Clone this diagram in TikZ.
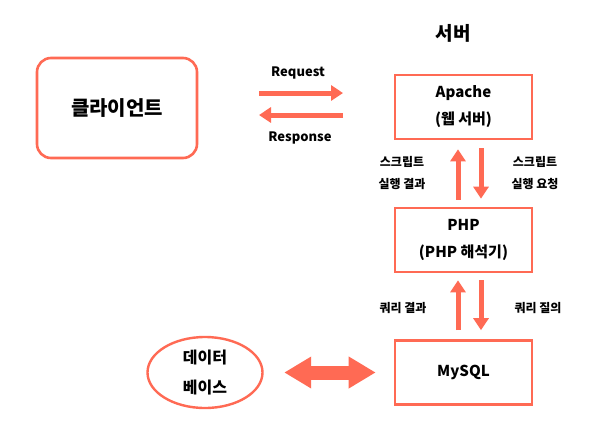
\documentclass[tikz,border=0pt]{standalone}
\usepackage{fontspec}
\setmainfont{Noto Sans CJK KR}
\usetikzlibrary{arrows.meta,shapes.geometric,calc}
\definecolor{coral}{RGB}{255,106,84}
\begin{document}
\begin{tikzpicture}[x=1pt,y=-1pt,
  box/.style={draw=coral, line width=2.6pt, minimum width=137pt, minimum height=64pt, align=center, font=\bfseries\fontsize{15}{27}\selectfont, inner sep=0pt},
  arr/.style={draw=coral, line width=5pt, -{Triangle[length=12pt,width=15pt]}},
  bigarr/.style={draw=coral, line width=14pt, {Triangle[length=27pt,width=30pt]}-{Triangle[length=27pt,width=30pt]}},
  lbl/.style={font=\bfseries\fontsize{12}{22}\selectfont, align=center, inner sep=0pt},
  ttl/.style={font=\bfseries\fontsize{19}{22}\selectfont, inner sep=0pt}]
\useasboundingbox (0,0) rectangle (615,440);
\fill[white] (0,0) rectangle (615,440);
\node[box, rounded corners=14pt, minimum width=160pt, minimum height=100pt, font=\bfseries\fontsize{20}{24}\selectfont] (client) at (117,108) {클라이언트};
\node[ttl] (server) at (453,33) {서버};
\node[box] (apache) at (463.5,107) {Apache\\(웹 서버)};
\node[box] (php) at (463.5,240) {PHP\\(PHP 해석기)};
\node[box] (mysql) at (463.5,372.5) {MySQL};
\node[draw=coral, line width=2.4pt, ellipse, minimum width=115pt, minimum height=71pt, inner sep=0pt, align=center, font=\bfseries\fontsize{16}{30}\selectfont] (db) at (205,372.5) {데이터\\베이스};
% request / response
\coordinate (rqa) at (259,93);
\coordinate (rqb) at (343,93);
\coordinate (rsa) at (343,115);
\coordinate (rsb) at (259,115);
\draw[arr] (rqa) -- (rqb);
\draw[arr] (rsa) -- (rsb);
\node[lbl, font=\bfseries\fontsize{13}{16}\selectfont] (req) at (298,73) {Request};
\node[lbl, font=\bfseries\fontsize{13}{16}\selectfont] (res) at (300,138) {Response};
% apache <-> php
\draw[arr] ([xshift=-5.5pt,yshift=7pt]php.north) -- ([xshift=-5.5pt,yshift=-9pt]apache.south);
\draw[arr] ([xshift=17.5pt,yshift=-8pt]apache.south) -- ([xshift=17.5pt,yshift=8pt]php.north);
\node[lbl] (l1) at (402,173) {스크립트\\실행 결과};
\node[lbl] (l2) at (535,173) {스크립트\\실행 요청};
% php <-> mysql
\draw[arr] ([xshift=-5.5pt,yshift=9pt]mysql.north) -- ([xshift=-5.5pt,yshift=-7pt]php.south);
\draw[arr] ([xshift=17.5pt,yshift=-7pt]php.south) -- ([xshift=17.5pt,yshift=9pt]mysql.north);
\node[lbl] (l3) at (403,308) {쿼리 결과};
\node[lbl] (l4) at (538,308) {쿼리 질의};
% db <-> mysql
\draw[bigarr] ([xshift=20.5pt]db.east) -- ([xshift=-18pt]mysql.west);
\end{tikzpicture}
\end{document}
